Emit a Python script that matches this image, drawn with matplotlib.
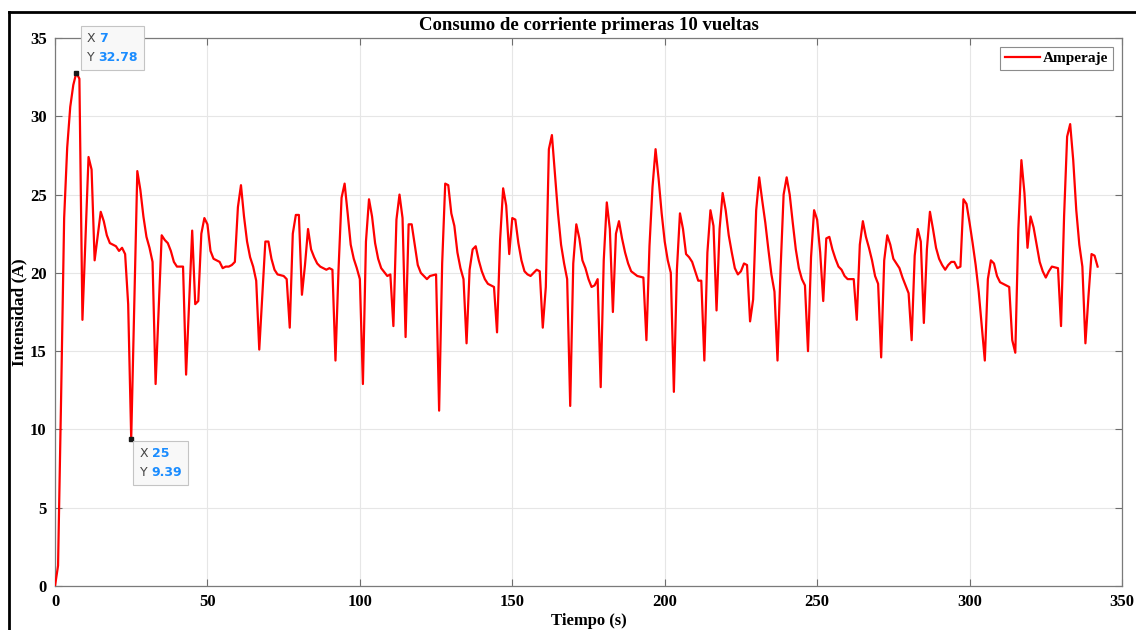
import matplotlib
matplotlib.use("Agg")
import matplotlib.pyplot as plt
from matplotlib.lines import Line2D
from matplotlib.offsetbox import TextArea, HPacker, VPacker, AnnotationBbox

# tiempo (s) e intensidad (A) de las primeras 10 vueltas
tiempo = [
    0, 1, 2, 3, 4, 5, 6, 7, 8, 9, 11, 12, 13, 15, 16, 17, 18, 20, 21, 22, 23, 24, 25,
    27, 28, 29, 30, 31, 32, 33, 35, 36, 37, 38, 39, 40, 42, 43, 45, 46, 47, 48, 49,
    50, 51, 52, 53, 54, 55, 56, 57, 58, 59, 60, 61, 62, 63, 64, 65, 66, 67, 69, 70,
    71, 72, 73, 75, 76, 77, 78, 79, 80, 81, 82, 83, 84, 85, 86, 87, 89, 90, 91, 92,
    93, 94, 95, 96, 97, 98, 99, 100, 101, 102, 103, 104, 105, 106, 107, 109, 110,
    111, 112, 113, 114, 115, 116, 117, 118, 119, 120, 122, 123, 125, 126, 127, 128,
    129, 130, 131, 132, 133, 134, 135, 136, 137, 138, 139, 140, 141, 142, 143, 144,
    145, 146, 147, 148, 149, 150, 151, 152, 153, 154, 155, 156, 157, 158, 159, 160,
    161, 162, 163, 164, 165, 166, 167, 168, 169, 170, 171, 172, 173, 174, 175, 176,
    177, 178, 179, 180, 181, 182, 183, 184, 185, 186, 187, 188, 189, 191, 193, 194,
    195, 196, 197, 198, 199, 200, 201, 202, 203, 204, 205, 206, 207, 208, 209, 210,
    211, 212, 213, 214, 215, 216, 217, 218, 219, 220, 221, 222, 223, 224, 225, 226,
    227, 228, 229, 230, 231, 232, 233, 234, 235, 236, 237, 238, 239, 240, 241, 242,
    243, 244, 245, 246, 247, 248, 249, 250, 251, 252, 253, 254, 255, 256, 257, 258,
    259, 260, 262, 263, 264, 265, 266, 267, 268, 269, 270, 271, 272, 273, 274, 275,
    276, 277, 278, 279, 280, 281, 282, 283, 284, 285, 286, 287, 288, 289, 290, 291,
    292, 293, 294, 295, 296, 297, 298, 299, 300, 301, 302, 303, 304, 305, 306, 307,
    308, 309, 310, 312, 313, 314, 315, 316, 317, 318, 319, 320, 321, 322, 323, 324,
    325, 326, 327, 329, 330, 331, 332, 333, 334, 335, 336, 337, 338, 339, 340, 341,
    342,
]
amperaje = [
    0.0, 1.3, 12.0, 23.5, 28.0, 30.6, 32.0, 32.78, 32.4, 17.0, 27.4, 26.6, 20.8, 23.9,
    23.3, 22.4, 21.9, 21.7, 21.4, 21.6, 21.2, 18.0, 9.39,
    26.5, 25.3, 23.6, 22.3, 21.6, 20.7, 12.9, 22.4, 22.1, 21.9, 21.4, 20.7, 20.4, 20.4,
    13.5, 22.7, 18.0, 18.2, 22.5, 23.5,
    23.1, 21.4, 20.9, 20.8, 20.7, 20.3, 20.4, 20.4, 20.5, 20.7, 24.2, 25.6, 23.6, 22.0,
    21.0, 20.4, 19.5, 15.1, 22.0, 22.0,
    20.9, 20.2, 19.9, 19.8, 19.6, 16.5, 22.5, 23.7, 23.7, 18.6, 20.5, 22.8, 21.5, 21.0,
    20.6, 20.4, 20.2, 20.3, 20.2, 14.4,
    20.2, 24.8, 25.7, 23.8, 21.8, 20.9, 20.3, 19.6, 12.9, 22.0, 24.7, 23.6, 21.9, 20.9,
    20.3, 19.8, 19.9,
    16.6, 23.4, 25.0, 23.5, 15.9, 23.1, 23.1, 21.8, 20.5, 20.0, 19.6, 19.8, 19.9, 11.2,
    20.6, 25.7,
    25.6, 23.8, 23.0, 21.3, 20.3, 19.6, 15.5, 20.2, 21.5, 21.7, 20.8, 20.1, 19.6, 19.3,
    19.2, 19.1,
    16.2, 22.1, 25.4, 24.3, 21.2, 23.5, 23.4, 21.9, 20.8, 20.1, 19.9, 19.8, 20.0, 20.2,
    20.1, 16.5,
    19.1, 27.9, 28.8, 26.3, 23.8, 21.8, 20.6, 19.6, 11.5, 20.6, 23.1, 22.2, 20.8, 20.3,
    19.6, 19.1,
    19.2, 19.6, 12.7, 20.8, 24.5, 22.8, 17.5, 22.5, 23.3, 22.2, 21.3, 20.6, 20.1, 19.8,
    19.7, 15.7,
    21.7, 25.5, 27.9, 26.0, 23.8, 22.0, 20.8, 20.0, 12.4, 20.2, 23.8, 22.8, 21.2, 21.0,
    20.7, 20.1,
    19.5, 19.5, 14.4, 21.3, 24.0, 23.0, 17.6, 22.8, 25.1, 24.0, 22.4, 21.3, 20.3, 19.9,
    20.1, 20.6,
    20.5, 16.9, 18.3, 24.0, 26.1, 24.6, 23.2, 21.5, 19.9, 18.8, 14.4, 20.2, 25.0, 26.1,
    25.0, 23.2,
    21.5, 20.3, 19.6, 19.2, 15.0, 21.0, 24.0, 23.4, 21.3, 18.2, 22.2, 22.3, 21.5, 20.9,
    20.4, 20.2,
    19.8, 19.6, 19.6, 17.0, 21.8, 23.3, 22.3, 21.6, 20.8, 19.8, 19.3, 14.6, 20.8, 22.4,
    21.8, 20.9,
    20.6, 20.3, 19.7, 19.2, 18.7, 15.7, 21.1, 22.8, 22.0, 16.8, 21.5, 23.9, 22.8, 21.6,
    20.9, 20.5,
    20.2, 20.5, 20.7, 20.7, 20.3, 20.4, 24.7, 24.4, 23.2, 21.9, 20.5, 18.8, 16.6, 14.4,
    19.6, 20.8,
    20.6, 19.8, 19.4, 19.2, 19.1, 15.7, 14.9, 22.8, 27.2, 25.1, 21.6, 23.6, 22.9, 21.8,
    20.7, 20.1,
    19.7, 20.1, 20.4, 20.3, 16.6, 23.6, 28.7, 29.5, 27.2, 24.0, 21.8, 20.4, 15.5, 18.5,
    21.2, 21.1,
    20.4,
]

# puntos marcados con cursor de datos
marcas_t = [7, 25]
marcas_a = [32.78, 9.39]
marcas_txt_x = ["7", "25"]
marcas_txt_y = ["32.78", "9.39"]
marcas_offset = [(7.5, 6.5), (6.0, -6.0)]
marcas_align = [(0, 0), (0, 1)]

serif = "Liberation Serif"

fig = plt.figure(figsize=(11.36, 6.30), dpi=100)
ax = fig.add_axes([55 / 1136, 44 / 630, 1067 / 1136, 548 / 630])

ax.plot(tiempo, amperaje, color="#ff0000", lw=1.6, label="Amperaje", zorder=3)
ax.plot(marcas_t, marcas_a, "s", color="#1a1a1a", ms=3, zorder=4)

ax.set_xlim(0, 350)
ax.set_ylim(0, 35)
ax.set_xticks(range(0, 351, 50))
ax.set_yticks(range(0, 36, 5))
ax.grid(True, color="#e6e6e6", lw=0.8, zorder=0)
ax.set_axisbelow(True)
ax.tick_params(direction="in", top=True, right=True, length=5, width=0.8,
               color="#6e6e6e", labelsize=12, pad=6)
for lab in ax.get_xticklabels() + ax.get_yticklabels():
    lab.set_fontfamily(serif)
    lab.set_fontweight("bold")
for sp in ax.spines.values():
    sp.set_color("#7a7a7a")
    sp.set_linewidth(0.9)

ax.set_xlabel("Tiempo (s)", fontfamily=serif, fontweight="bold", fontsize=12, labelpad=2)
ax.set_ylabel("Intensidad (A)", fontfamily=serif, fontweight="bold", fontsize=12.5,
              labelpad=2)
ax.set_title("Consumo de corriente primeras 10 vueltas", fontfamily=serif,
             fontweight="bold", fontsize=13.5, pad=6)

leg = ax.legend(loc="upper right", prop={"family": serif, "weight": "bold", "size": 11},
                fancybox=False, framealpha=1, edgecolor="#8c8c8c", handlelength=2.3,
                handletextpad=0.2, borderaxespad=0.6, borderpad=0.3)
leg.get_frame().set_linewidth(0.8)

# cuadros del cursor de datos
for t, a, tx, ty, off, al in zip(marcas_t, marcas_a, marcas_txt_x, marcas_txt_y,
                                 marcas_offset, marcas_align):
    fila_x = HPacker(children=[
        TextArea("X", textprops=dict(color="#444444", fontsize=9)),
        TextArea(tx, textprops=dict(color="#1a8cff", fontsize=9, fontweight="bold")),
    ], pad=0, sep=3)
    fila_y = HPacker(children=[
        TextArea("Y", textprops=dict(color="#444444", fontsize=9)),
        TextArea(ty, textprops=dict(color="#1a8cff", fontsize=9, fontweight="bold")),
    ], pad=0, sep=3)
    caja = VPacker(children=[fila_x, fila_y], pad=0, sep=4, align="left")
    ab = AnnotationBbox(caja, (t, a), xybox=off, xycoords="data",
                        boxcoords="offset points", box_alignment=al, pad=0.45,
                        frameon=True,
                        bboxprops=dict(facecolor="#f8f8f8", edgecolor="#c4c4c4", lw=0.8))
    ab.set_zorder(5)
    ax.add_artist(ab)

# marco negro de la figura
fig.add_artist(Line2D([9 / 1136, 1.0], [1 - 12 / 630, 1 - 12 / 630], color="black",
                      lw=2, transform=fig.transFigure))
fig.add_artist(Line2D([9 / 1136, 9 / 1136], [0.0, 1 - 12 / 630], color="black",
                      lw=2, transform=fig.transFigure))

fig.savefig("out.png", dpi=100, facecolor="white")
